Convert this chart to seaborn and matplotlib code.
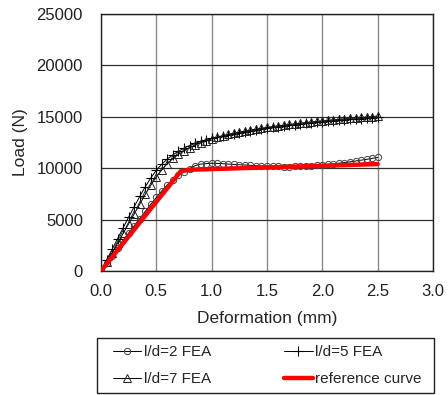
import matplotlib
matplotlib.use('Agg')
import matplotlib.pyplot as plt
import matplotlib.patches as mpatches
import seaborn as sns
import pandas as pd

# Deformation grid (mm) shared by the FEA curves
defo = [0.00, 0.05, 0.10, 0.15, 0.20, 0.25, 0.30, 0.35, 0.40, 0.45,
        0.50, 0.55, 0.60, 0.65, 0.70, 0.75, 0.80, 0.85, 0.90, 0.95,
        1.00, 1.05, 1.10, 1.15, 1.20, 1.25, 1.30, 1.35, 1.40, 1.45,
        1.50, 1.55, 1.60, 1.65, 1.70, 1.75, 1.80, 1.85, 1.90, 1.95,
        2.00, 2.05, 2.10, 2.15, 2.20, 2.25, 2.30, 2.35, 2.40, 2.45, 2.50]

load_ld2 = [0, 750, 1500, 2250, 3000, 3700, 4400, 5100, 5800, 6500,
            7150, 7800, 8400, 8900, 9300, 9650, 9950, 10250, 10400, 10450,
            10480, 10470, 10440, 10400, 10370, 10340, 10310, 10280, 10250, 10220,
            10200, 10180, 10170, 10160, 10160, 10170, 10190, 10220, 10250, 10290,
            10330, 10380, 10430, 10490, 10550, 10620, 10700, 10780, 10860, 10950, 11050]

load_ld5 = [0, 1050, 2100, 3150, 4200, 5250, 6250, 7250, 8200, 9050,
            9800, 10400, 10900, 11300, 11650, 11950, 12200, 12420, 12600, 12760,
            12900, 13030, 13150, 13260, 13370, 13470, 13570, 13660, 13750, 13830,
            13910, 13980, 14050, 14120, 14180, 14240, 14300, 14360, 14410, 14460,
            14510, 14560, 14610, 14660, 14700, 14740, 14790, 14830, 14870, 14910, 14950]

load_ld7 = [0, 850, 1750, 2700, 3650, 4600, 5550, 6500, 7450, 8350,
            9150, 9850, 10450, 10950, 11350, 11700, 12000, 12250, 12480, 12680,
            12860, 13010, 13150, 13280, 13400, 13510, 13610, 13710, 13800, 13890,
            13970, 14050, 14120, 14190, 14260, 14320, 14380, 14440, 14500, 14550,
            14600, 14650, 14700, 14750, 14800, 14850, 14890, 14940, 14980, 15020, 15070]

# Bilinear reference curve
ref_defo = [0.0, 0.72, 0.80, 2.50]
ref_load = [0, 9700, 9850, 10400]

x_ticks = [0.0, 0.5, 1.0, 1.5, 2.0, 2.5, 3.0]
y_ticks = [0, 5000, 10000, 15000, 20000, 25000]

df = pd.DataFrame({'defo': defo, 'ld2': load_ld2, 'ld5': load_ld5, 'ld7': load_ld7})
df_ref = pd.DataFrame({'defo': ref_defo, 'load': ref_load})

sns.set_style('white')
plt.rcParams['font.family'] = ['Liberation Sans', 'DejaVu Sans']

fig = plt.figure(figsize=(4.48, 3.95), dpi=100)
ax = fig.add_axes([101 / 448, 1 - 271 / 395, 332 / 448, 257 / 395])

sns.lineplot(data=df, x='defo', y='ld2', ax=ax, color='black', lw=0.7,
             marker='o', markersize=4.5, markerfacecolor='none',
             markeredgecolor='#444444', markeredgewidth=0.7, label='l/d=2 FEA')
sns.lineplot(data=df, x='defo', y='ld5', ax=ax, color='black', lw=0.7,
             marker='+', markersize=7.5, markeredgecolor='black',
             markeredgewidth=0.8, label='l/d=5 FEA')
sns.lineplot(data=df, x='defo', y='ld7', ax=ax, color='black', lw=0.7,
             marker='^', markersize=5.5, markerfacecolor='none',
             markeredgecolor='#222222', markeredgewidth=0.7, label='l/d=7 FEA')
sns.lineplot(data=df_ref, x='defo', y='load', ax=ax, color='#ff0000', lw=3.2,
             label='reference curve', zorder=5)

ax.set_xlim(0, 3.0)
ax.set_ylim(0, 25000)
ax.set_xticks(x_ticks)
ax.set_yticks(y_ticks)
ax.set_xticklabels([f'{v:.1f}' for v in x_ticks])
ax.set_yticklabels([str(v) for v in y_ticks])
ax.tick_params(axis='both', length=0, labelsize=12, colors='#222222')
ax.tick_params(axis='x', pad=9)
ax.tick_params(axis='y', pad=13)

ax.grid(axis='x', color='#8a8a8a', lw=1.0)
ax.grid(axis='y', color='#303030', lw=0.9)
ax.set_axisbelow(True)
for s in ax.spines.values():
    s.set_color('#222222')
    s.set_linewidth(1.0)

ax.set_xlabel('Deformation (mm)', fontsize=12.5, labelpad=9)
ax.set_ylabel('Load (N)', fontsize=12.5, labelpad=6)

# legend fills column-wise: order so rows read ld2|ld5, ld7|reference
handles, labels = ax.get_legend_handles_labels()
ax.get_legend().remove()
order = [0, 2, 1, 3]
fig.legend([handles[i] for i in order], [labels[i] for i in order],
           loc='upper left', ncol=2, frameon=False,
           bbox_to_anchor=(101 / 448, 1 - 333 / 395), fontsize=11,
           handlelength=1.85, handletextpad=0.15, columnspacing=4.8,
           labelspacing=0.85, borderpad=0.3)
fig.patches.append(mpatches.Rectangle((97 / 448, 1 - 392.5 / 395), 337 / 448, 55 / 395,
                                      transform=fig.transFigure, fill=False,
                                      edgecolor='#222222', lw=1.0))

fig.savefig('out.png', dpi=100)
